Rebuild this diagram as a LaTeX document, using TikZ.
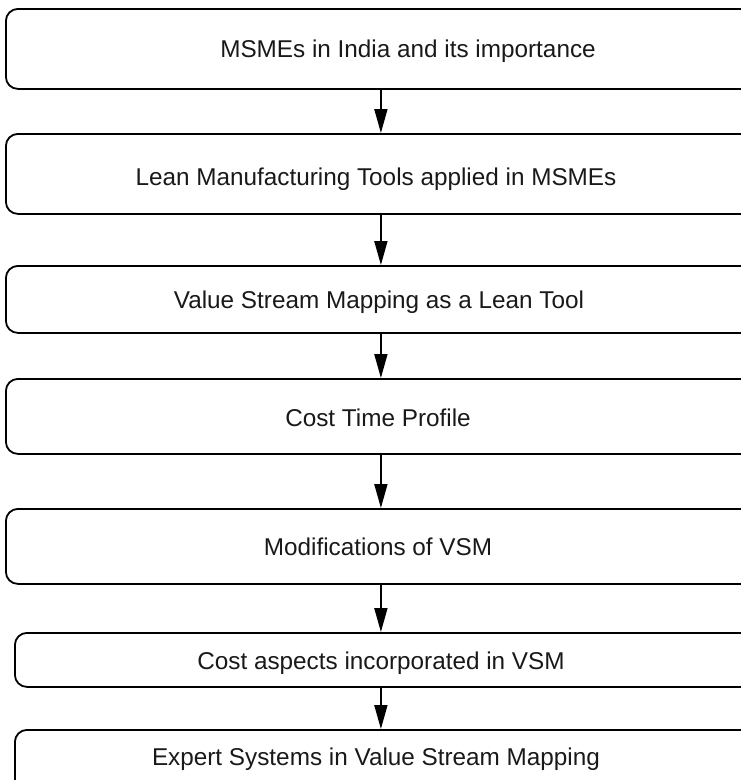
\documentclass[tikz,border=0pt]{standalone}
\usepackage{fontspec}
\setmainfont{Liberation Sans}
\usetikzlibrary{arrows.meta}
\begin{document}
\begin{tikzpicture}[x=1pt,y=-1pt,
  stagebox/.style={draw=black, line width=1.8pt, rounded corners=12pt,
    inner sep=0pt, anchor=north west},
  stagetext/.style={anchor=base, inner sep=0pt, text=black!90,
    font=\fontsize{24.3}{29}\selectfont},
  flow/.style={line width=1.8pt, -{Triangle[length=24pt,width=13pt]}}]
\useasboundingbox (0,0) rectangle (741,780);

% stage boxes (right edges run past the page edge)
\node[stagebox, minimum width=750pt, minimum height=80pt] (b1) at (5,8) {};
\node[stagebox, minimum width=750pt, minimum height=80pt] (b2) at (5,133) {};
\node[stagebox, minimum width=750pt, minimum height=67pt] (b3) at (5,265) {};
\node[stagebox, minimum width=750pt, minimum height=75pt] (b4) at (5,378) {};
\node[stagebox, minimum width=750pt, minimum height=75pt] (b5) at (5,508) {};
\node[stagebox, minimum width=742pt, minimum height=54pt] (b6) at (14,632) {};
\node[stagebox, minimum width=742pt, minimum height=70pt] (b7) at (14,729) {};

% stage titles
\node[stagetext] (t1) at (408,57) {MSMEs in India and its importance};
\node[stagetext] (t2) at (376,185) {Lean Manufacturing Tools applied in MSMEs};
\node[stagetext] (t3) at (379,308) {Value Stream Mapping as a Lean Tool};
\node[stagetext] (t4) at (378,426) {Cost Time Profile};
\node[stagetext] (t5) at (378,555) {Modifications of VSM};
\node[stagetext] (t6) at (381,669) {Cost aspects incorporated in VSM};
\node[stagetext] (t7) at (376,765) {Expert Systems in Value Stream Mapping};

% connectors
\draw[flow] (b1.south) -- (b2.north);
\draw[flow] (b2.south) -- (b3.north);
\draw[flow] (b3.south) -- (b4.north);
\draw[flow] (b4.south) -- (b5.north);
\draw[flow] (b5.south) -- (b5.south |- b6.north);
\draw[flow] (b5.south |- b6.south) -- (b5.south |- b7.north);
\end{tikzpicture}
\end{document}
